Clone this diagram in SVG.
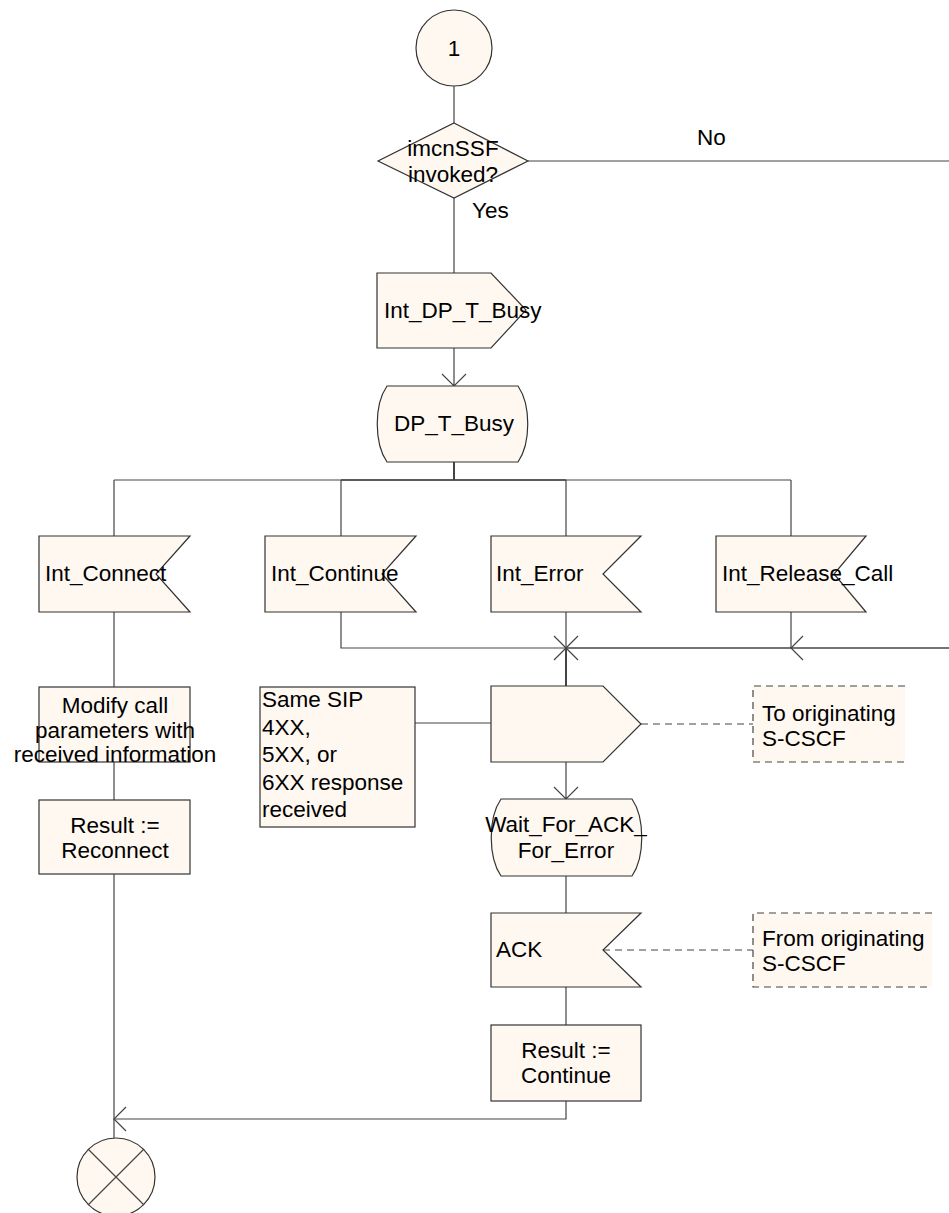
<svg xmlns="http://www.w3.org/2000/svg" width="949" height="1213" viewBox="0 0 949 1213">
<style>
.s{fill:#FFF8F0;stroke:#333;stroke-width:1.2}
.c{fill:none;stroke:#444;stroke-width:1.2}
.d{fill:none;stroke:#444;stroke-width:1.2;stroke-dasharray:7,5}
.t{font-family:"Liberation Sans",Arial,sans-serif;font-size:22.5px;fill:#000}
.m{text-anchor:middle}
</style>
<rect width="949" height="1213" fill="#fff"/>
<g id="connectors">
<path class="c" d="M454,86 V123"/>
<path class="c" d="M528,161 H949"/>
<path class="c" d="M454,198 V273"/>
<path class="c" d="M454,348 V386 M442,374 L454,386 L466,374"/>
<path class="c" d="M454,462 V480" style="stroke-width:2"/>
<path class="c" d="M114,480 H791"/>
<path class="c" d="M341,480 H566" style="stroke-width:1.6"/>
<path class="c" d="M114,480 V536 M341,480 V536 M566,480 V536 M791,480 V536"/>
<path class="c" d="M341,612 V648 H566"/>
<path class="c" d="M566,612 V648"/>
<path class="c" d="M791,612 V648"/>
<path class="c" d="M949,648 H566" style="stroke-width:1.4"/>
<path class="c" d="M803,636 L791,648 L803,660"/>
<path class="c" d="M554,636 L578,660 M578,636 L554,660"/>
<path class="c" d="M566,648 V686" style="stroke-width:2"/>
<path class="c" d="M415,723 H491"/>
<path class="d" d="M641,724 H753"/>
<path class="c" d="M566,762 V799 M554,787 L566,799 L578,787"/>
<path class="c" d="M566,876 V913"/>
<path class="d" d="M603,950 H753"/>
<path class="c" d="M566,987 V1025"/>
<path class="c" d="M566,1101 V1119 H114"/>
<path class="c" d="M126,1107 L114,1119 L126,1131"/>
<path class="c" d="M114,612 V687 M114,762 V800 M114,874 V1138"/>
</g>
<g id="start">
<circle class="s" cx="454" cy="48" r="38"/>
<text class="t m" x="454" y="56">1</text>
</g>
<g id="decision">
<path class="s" d="M454,123 L528,161 L454,198 L378,161 Z"/>
<text class="t m" x="453" y="156">imcnSSF</text>
<text class="t m" x="453" y="182">invoked?</text>
<text class="t" x="472" y="218">Yes</text>
<text class="t" x="697" y="145">No</text>
</g>
<g id="out_int_dp_t_busy">
<path class="s" d="M377,273 H491 L526,310 L491,348 H377 Z"/>
<text class="t" x="384" y="318">Int_DP_T_Busy</text>
</g>
<g id="state_dp_t_busy">
<path class="s" d="M387,386 H518 C531,405 531,443 518,462 H387 C374,443 374,405 387,386 Z"/>
<text class="t m" x="454" y="431">DP_T_Busy</text>
</g>
<g id="in_int_connect">
<path class="s" d="M39,536 H190 L156,574 L190,612 H39 Z"/>
<text class="t" x="45" y="581">Int_Connect</text>
</g>
<g id="in_int_continue">
<path class="s" d="M265,536 H416 L382,574 L416,612 H265 Z"/>
<text class="t" x="271" y="581">Int_Continue</text>
</g>
<g id="in_int_error">
<path class="s" d="M491,536 H641 L603,574 L641,612 H491 Z"/>
<text class="t" x="496" y="581">Int_Error</text>
</g>
<g id="in_int_release_call">
<path class="s" d="M716,536 H866 L834,574 L866,612 H716 Z"/>
<text class="t" x="722" y="581">Int_Release_Call</text>
</g>
<g id="task_modify">
<rect class="s" x="39" y="687" width="151" height="75"/>
<text class="t m" x="115" y="713">Modify call</text>
<text class="t m" x="115" y="738">parameters with</text>
<text class="t m" x="115" y="762">received information</text>
</g>
<g id="task_reconnect">
<rect class="s" x="39" y="800" width="151" height="74"/>
<text class="t m" x="115" y="833">Result :=</text>
<text class="t m" x="115" y="858">Reconnect</text>
</g>
<g id="task_same_sip">
<rect class="s" x="260" y="687" width="155" height="140"/>
<text class="t" x="262" y="707">Same SIP</text>
<text class="t" x="262" y="735">4XX,</text>
<text class="t" x="262" y="762">5XX, or</text>
<text class="t" x="262" y="790">6XX response</text>
<text class="t" x="262" y="817">received</text>
</g>
<g id="out_error">
<path class="s" d="M491,686 H603 L641,724 L603,762 H491 Z"/>
</g>
<g id="comment_to">
<rect x="753" y="686" width="152" height="76" fill="#FFF8F0"/>
<path class="d" d="M905,686 H753 V762 H905"/>
<text class="t" x="762" y="721">To originating</text>
<text class="t" x="762" y="746">S-CSCF</text>
</g>
<g id="state_wait_ack">
<path class="s" d="M501,799 H632 C645,818 645,857 632,876 H501 C488,857 488,818 501,799 Z"/>
<text class="t m" x="566" y="832">Wait_For_ACK_</text>
<text class="t m" x="566" y="858">For_Error</text>
</g>
<g id="in_ack">
<path class="s" d="M491,913 H641 L603,950 L641,987 H491 Z"/>
<text class="t" x="496" y="957">ACK</text>
</g>
<g id="comment_from">
<rect x="753" y="913" width="179" height="74" fill="#FFF8F0"/>
<path class="d" d="M932,913 H753 V987 H932"/>
<text class="t" x="762" y="946">From originating</text>
<text class="t" x="762" y="971">S-CSCF</text>
</g>
<g id="task_continue">
<rect class="s" x="491" y="1025" width="150" height="76"/>
<text class="t m" x="566" y="1058">Result :=</text>
<text class="t m" x="566" y="1083">Continue</text>
</g>
<g id="stop">
<circle class="s" cx="116" cy="1177" r="39"/>
<path class="c" d="M88,1149 L144,1205 M144,1149 L88,1205"/>
</g>
</svg>
